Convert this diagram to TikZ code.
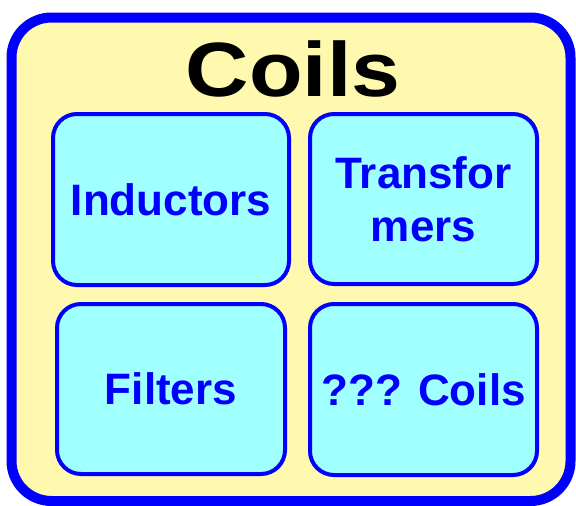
\documentclass[tikz,border=0pt]{standalone}
\usepackage{fontspec}
\setmainfont{Liberation Sans}
\definecolor{pale}{HTML}{FFF9B0}
\definecolor{aqua}{HTML}{A0FFFF}
\definecolor{deepblue}{HTML}{0000FF}
\tikzset{
  outerbox/.style={draw=deepblue, fill=pale, line width=10pt, rounded corners=40pt, inner sep=0pt},
  itembox/.style={draw=deepblue, fill=aqua, line width=4pt, rounded corners=24pt, inner sep=0pt,
    text=deepblue, align=center, font=\fontsize{44}{53}\selectfont\bfseries},
  titletext/.style={anchor=base, inner sep=0pt, font=\fontsize{77}{80}\selectfont\bfseries}
}
\begin{document}
\begin{tikzpicture}[x=1pt,y=-1pt]
\useasboundingbox (0,0) rectangle (576,506);
\node[outerbox, minimum width=559pt, minimum height=483.5pt] (frame) at (291,259.25) {};
\node[titletext] (title) at (293,96) {\scalebox{1.14}[1]{Coils}};
\node[itembox, minimum width=236pt, minimum height=171pt] (ind) at (171,199.5) {Inductors};
\node[itembox, minimum width=227pt, minimum height=170pt] (trans) at (423.5,199) {Transfor\\mers};
\node[itembox, minimum width=228pt, minimum height=170pt] (filt) at (171,389) {Filters};
\node[itembox, minimum width=227pt, minimum height=171pt] (coil) at (423.5,389.5) {??? Coils};
\end{tikzpicture}
\end{document}
